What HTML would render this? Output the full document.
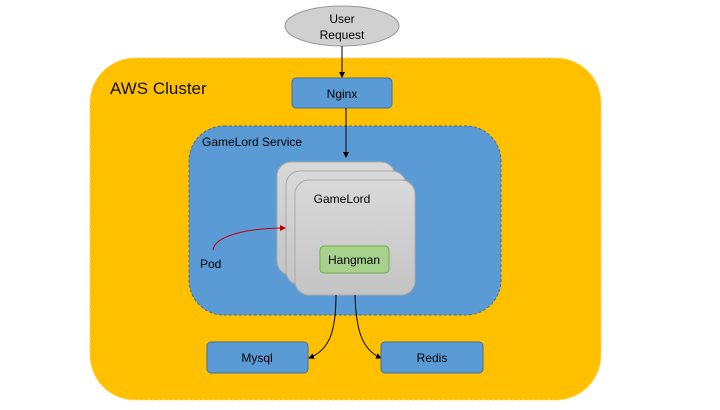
<!DOCTYPE html>
<html><head><style>
body{margin:0;width:720px;height:405px;background:#fff;overflow:hidden;font-family:"Liberation Sans",sans-serif;}
</style></head><body>
<svg width="720" height="405" xmlns="http://www.w3.org/2000/svg" font-family="Liberation Sans, sans-serif">
<defs>
<linearGradient id="g" x1="0" y1="0" x2="0" y2="1"><stop offset="0" stop-color="#d9d9d9"/><stop offset="1" stop-color="#c4c4c4"/></linearGradient>
<marker id="a" markerWidth="6" markerHeight="6" refX="5" refY="3" orient="auto"><path d="M0,0 L6,3 L0,6z" fill="#000"/></marker>
<marker id="r" markerWidth="6" markerHeight="6" refX="5" refY="3" orient="auto"><path d="M0,0 L6,3 L0,6z" fill="#c00000"/></marker>
</defs>
<rect x="90" y="58" width="511" height="342" rx="45" fill="#ffc000" stroke="#ffd966" stroke-dasharray="3,2"/>
<text x="110" y="94" font-size="17" fill="#111">AWS Cluster</text>
<ellipse cx="342" cy="26" rx="57" ry="20" fill="#d0d0d0" stroke="#999"/>
<text x="342" y="23" font-size="12" text-anchor="middle">User</text>
<text x="342" y="39" font-size="12" text-anchor="middle">Request</text>
<line x1="342" y1="46" x2="342" y2="77" stroke="#000" marker-end="url(#a)"/>
<rect x="292" y="78" width="100" height="30" rx="4" fill="#5b9bd5" stroke="#41719c"/>
<text x="342" y="98" font-size="12" text-anchor="middle">Nginx</text>
<rect x="189" y="126" width="312" height="189" rx="35" fill="#5b9bd5" stroke="#41719c" stroke-dasharray="3,2"/>
<text x="202" y="146" font-size="12">GameLord Service</text>
<line x1="346" y1="108" x2="346" y2="157" stroke="#000" marker-end="url(#a)"/>
<rect x="277" y="162" width="118" height="113" rx="14" fill="url(#g)" stroke="#aaa"/>
<rect x="286" y="171" width="120" height="114" rx="14" fill="url(#g)" stroke="#aaa"/>
<rect x="295" y="180" width="120" height="115" rx="14" fill="url(#g)" stroke="#aaa"/>
<text x="342" y="203" font-size="12" text-anchor="middle">GameLord</text>
<rect x="320" y="246" width="69" height="27" rx="4" fill="#a9d18e" stroke="#70ad47"/>
<text x="354" y="264" font-size="12" text-anchor="middle">Hangman</text>
<path d="M213,250 C215,235 250,228 285,228" fill="none" stroke="#c00000" marker-end="url(#r)"/>
<text x="200" y="268" font-size="12">Pod</text>
<path d="M336,295 C336,330 330,350 309,358" fill="none" stroke="#000" marker-end="url(#a)"/>
<path d="M355,295 C356,330 362,350 381,358" fill="none" stroke="#000" marker-end="url(#a)"/>
<rect x="207" y="342" width="101" height="31" rx="4" fill="#5b9bd5" stroke="#41719c"/>
<text x="257" y="362" font-size="12" text-anchor="middle">Mysql</text>
<rect x="381" y="342" width="102" height="31" rx="4" fill="#5b9bd5" stroke="#41719c"/>
<text x="432" y="362" font-size="12" text-anchor="middle">Redis</text>
</svg>
</body></html>
